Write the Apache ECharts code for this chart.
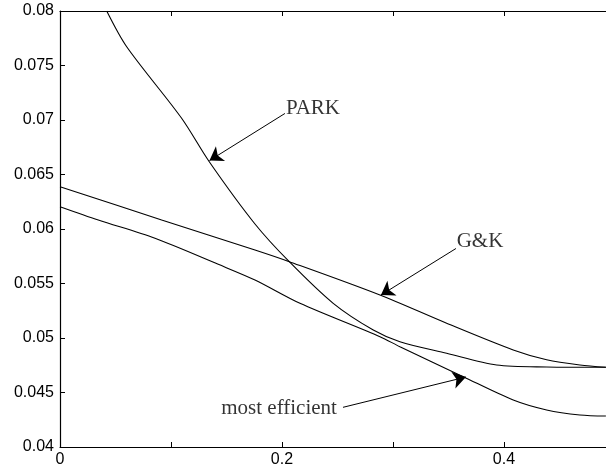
<!DOCTYPE html>
<html>
<head>
<meta charset="utf-8">
<script src="https://cdn.jsdelivr.net/npm/echarts@6/dist/echarts.min.js"></script>
<style>
html,body{margin:0;padding:0;background:#fff;}
#chart{width:606px;height:472px;}
</style>
</head>
<body>
<div id="chart"></div>
<script>
// ---- data ----
var parkX = [0.0421, 0.0601, 0.1096, 0.1345, 0.1757, 0.2066, 0.2462, 0.2823, 0.3063, 0.3484, 0.3934, 0.4385, 0.4919];
var parkY = [0.0800, 0.07672, 0.07016, 0.06617, 0.06046, 0.0570, 0.05318, 0.05073, 0.04966, 0.04860, 0.04752, 0.04734, 0.04731];

var gkX = [0.0, 0.0916, 0.1757, 0.2066, 0.2883, 0.3484, 0.4084, 0.4385, 0.4685, 0.4919];
var gkY = [0.06388, 0.06083, 0.05807, 0.0570, 0.05394, 0.05135, 0.0489, 0.0480, 0.04752, 0.04731];

var effX = [0.0, 0.0345, 0.0856, 0.1426, 0.1757, 0.2162, 0.2883, 0.3063, 0.3633, 0.4084, 0.4385, 0.4685, 0.4919];
var effY = [0.06205, 0.06083, 0.05915, 0.05676, 0.05532, 0.05318, 0.05012, 0.0492, 0.04645, 0.04431, 0.0434, 0.04294, 0.04284];

var xLabelValues = [0, 0.2, 0.4];

// annotations: text, anchor point, arrow start, arrow tip (data coords)
var annotTexts  = ['PARK', 'G&K', 'most efficient'];
var annotAnchor = [[0.2036, 0.0711], [0.3574, 0.05883], [0.2495, 0.04349]];
var annotSide   = ['right', 'right', 'left'];
var arrowStart  = [[0.2027, 0.07060], [0.3568, 0.05821], [0.2550, 0.04364]];
var arrowTip    = [[0.1347, 0.06628], [0.2892, 0.05394], [0.3658, 0.04642]];

function pairs(xs, ys){ return xs.map(function(x,i){ return [x, ys[i]]; }); }

var chart = echarts.init(document.getElementById('chart'), null, {renderer:'canvas'});

var axisLineStyle = {color:'#000', width:1.2};
var tickStyle = {color:'#000', width:1};
var serif = 'Liberation Serif';
var sans = 'Liberation Sans';

var curveStyle = {color:'#000', width:1.1};

var option = {
  animation:false,
  backgroundColor:'#fff',
  grid:{left:60, top:11, right:0, bottom:25, containLabel:false},
  xAxis:[{
    type:'value', position:'bottom', min:0, max:0.492, interval:0.1,
    axisLine:{show:true, onZero:false, lineStyle:axisLineStyle},
    axisTick:{show:true, inside:true, length:5, lineStyle:tickStyle},
    splitLine:{show:false},
    axisLabel:{
      show:true, margin:5, color:'#000', fontFamily:sans, fontSize:16,
      showMaxLabel:false,
      formatter:function(v){
        for (var i=0;i<xLabelValues.length;i++){ if (Math.abs(v-xLabelValues[i])<1e-9) return String(xLabelValues[i]); }
        return '';
      }
    }
  },{
    type:'value', position:'top', min:0, max:0.492, interval:0.1,
    axisLine:{show:true, onZero:false, lineStyle:axisLineStyle},
    axisTick:{show:true, inside:true, length:5, lineStyle:tickStyle},
    splitLine:{show:false},
    axisLabel:{show:false}
  }],
  yAxis:[{
    type:'value', min:0.04, max:0.08, interval:0.005,
    axisLine:{show:true, onZero:false, lineStyle:axisLineStyle},
    axisTick:{show:true, inside:true, length:5, lineStyle:tickStyle},
    splitLine:{show:false},
    axisLabel:{show:true, margin:6, color:'#000', fontFamily:sans, fontSize:16,
      formatter:function(v){ return String(+v.toFixed(3)); }}
  }],
  series:[
    {type:'line', name:'PARK', data:pairs(parkX, parkY), showSymbol:false, smooth:0.3,
     lineStyle:curveStyle, clip:true, silent:true},
    {type:'line', name:'G&K', data:pairs(gkX, gkY), showSymbol:false, smooth:0.3,
     lineStyle:curveStyle, clip:true, silent:true},
    {type:'line', name:'most efficient', data:pairs(effX, effY), showSymbol:false, smooth:0.3,
     lineStyle:curveStyle, clip:true, silent:true},
    {type:'scatter', symbolSize:0, silent:true,
     data: annotTexts.map(function(t,i){
       return {value:annotAnchor[i], label:{show:true, formatter:t, position:annotSide[i], distance:0,
               color:'#000', fontFamily:serif, fontSize:21}};
     }),
     markLine:{
       silent:true, animation:false,
       symbol:['none','arrow'], symbolSize:13,
       label:{show:false},
       lineStyle:{color:'#000', width:1, type:'solid'},
       data: arrowStart.map(function(s,i){
         return [{coord:s, symbol:'none'}, {coord:arrowTip[i], symbol:'arrow', symbolSize:13}];
       })
     }
    }
  ]
};
chart.setOption(option);
</script>
</body>
</html>
